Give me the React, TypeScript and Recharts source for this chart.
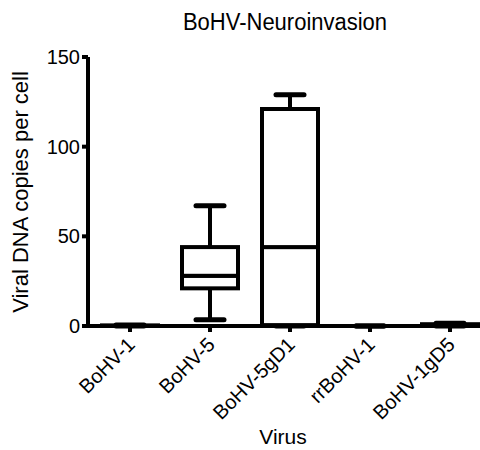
import React from "react";
import { ComposedChart, Bar, XAxis, YAxis } from "recharts";

const categories = ["BoHV-1", "BoHV-5", "BoHV-5gD1", "rrBoHV-1", "BoHV-1gD5"];
const minValues = [0, 3.5, 0, 0, 0];
const q1Values = [0, 21, 0.5, 0, 0];
const medianValues = [0.1, 28, 44, 0, 0.4];
const q3Values = [0.3, 44, 121, 0, 1];
const maxValues = [0.5, 67, 129, 0, 1.6];
const yTicks = [0, 50, 100, 150];

const data = categories.map((name, i) => ({
    name,
    base: minValues[i],
    lowerWhisker: q1Values[i] - minValues[i],
    lowerBox: medianValues[i] - q1Values[i],
    upperBox: q3Values[i] - medianValues[i],
    upperWhisker: maxValues[i] - q3Values[i],
}));

const FONT = "'Liberation Sans', Arial, Helvetica, sans-serif";
const LINE = 4;

const whisker = (cap: "top" | "bottom") => (props: any) => {
    const { x, y, width, height } = props;
    const cx = x + width / 2;
    const capY = cap === "top" ? y : y + height;
    return (
        <g>
            <line x1={cx} x2={cx} y1={y} y2={y + height} stroke="#000" strokeWidth={LINE} />
            <line x1={cx - 14} x2={cx + 14} y1={capY} y2={capY} stroke="#000" strokeWidth={LINE + 1} strokeLinecap="round" />
        </g>
    );
};

const BoxPart = (props: any) => {
    const { x, y, width, height } = props;
    return <rect x={x} y={y} width={width} height={height} fill="#fff" stroke="#000" strokeWidth={LINE} />;
};

const XTick = ({ x, y, payload }: any) => (
    <g transform={`translate(${x + 6},${y + 12})`}>
        <text textAnchor="end" transform="rotate(-45)" fontSize={20} fontFamily={FONT} fill="#000">
            {payload.value}
        </text>
    </g>
);

export default function App() {
    return (
        <div style={{ position: "absolute", left: 0, top: 0, width: 480, height: 450, overflow: "hidden", background: "#fff" }}>
            <ComposedChart
                width={500}
                height={450}
                data={data}
                margin={{ top: 57, right: 10, left: 0, bottom: 0 }}
                barSize={56}
            >
                <XAxis
                    dataKey="name"
                    height={124}
                    padding={{ left: 2, right: 0 }}
                    stroke="#000"
                    strokeWidth={LINE}
                    tickSize={6}
                    tick={<XTick />}
                    interval={0}
                />
                <YAxis
                    width={88}
                    domain={[0, 150]}
                    ticks={yTicks}
                    stroke="#000"
                    strokeWidth={LINE}
                    tickSize={6}
                    tick={{ fill: "#000", fontSize: 20, fontFamily: FONT }}
                />
                <Bar dataKey="base" stackId="a" fill="transparent" isAnimationActive={false} />
                <Bar dataKey="lowerWhisker" stackId="a" shape={whisker("bottom")} isAnimationActive={false} />
                <Bar dataKey="lowerBox" stackId="a" shape={<BoxPart />} isAnimationActive={false} />
                <Bar dataKey="upperBox" stackId="a" shape={<BoxPart />} isAnimationActive={false} />
                <Bar dataKey="upperWhisker" stackId="a" shape={whisker("top")} isAnimationActive={false} />
            </ComposedChart>
            <svg width={480} height={450} style={{ position: "absolute", left: 0, top: 0, pointerEvents: "none" }}>
                <text
                    x={0}
                    y={0}
                    transform="translate(285,30) scale(1,1.12)"
                    textAnchor="middle"
                    fontSize={22}
                    fontFamily={FONT}
                    fill="#000"
                >
                    BoHV-Neuroinvasion
                </text>
                <text
                    x={0}
                    y={0}
                    transform="translate(28,192) rotate(-90)"
                    textAnchor="middle"
                    fontSize={22}
                    fontFamily={FONT}
                    fill="#000"
                >
                    Viral DNA copies per cell
                </text>
                <text x={283} y={444} textAnchor="middle" fontSize={21} fontFamily={FONT} fill="#000">
                    Virus
                </text>
            </svg>
        </div>
    );
}
